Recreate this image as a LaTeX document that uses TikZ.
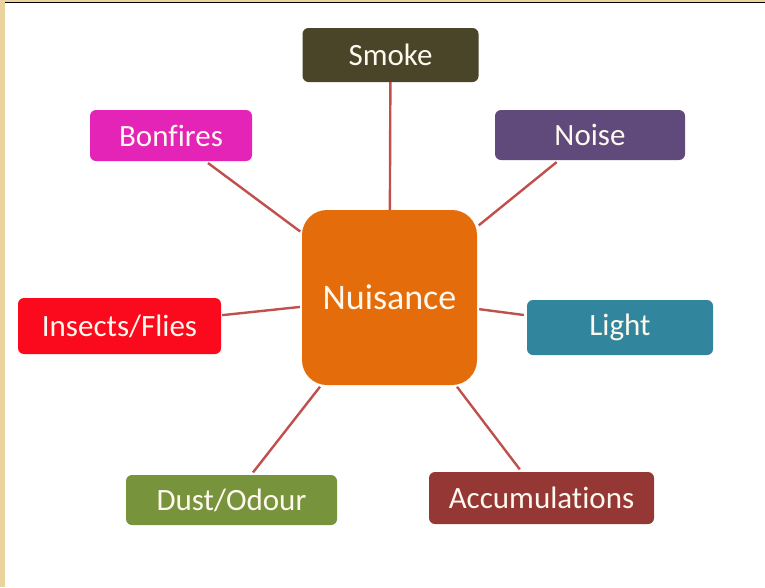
\documentclass[tikz,border=0pt]{standalone}
\usepackage{fontspec}
\setmainfont{Carlito}[Ligatures=NoCommon]
\definecolor{parch}{HTML}{EAD39C}
\definecolor{cSmoke}{HTML}{4A4428}
\definecolor{cBon}{HTML}{E324B6}
\definecolor{cNoise}{HTML}{604A7B}
\definecolor{cNui}{HTML}{E46C0A}
\definecolor{cIns}{HTML}{FA0A1C}
\definecolor{cLight}{HTML}{31859C}
\definecolor{cDust}{HTML}{77933C}
\definecolor{cAcc}{HTML}{953735}
\definecolor{cLine}{HTML}{C0504D}
\definecolor{cText}{HTML}{FFF8EE}
\begin{document}
\begin{tikzpicture}[x=1pt,y=-1pt,
  leaf/.style={rectangle,rounded corners=6pt,inner sep=0pt,text=cText,
    font=\fontsize{31}{37}\selectfont},
  hub/.style={rectangle,rounded corners=25pt,inner sep=0pt,text=cText,fill=cNui,
    minimum width=175pt,minimum height=175pt,font=\fontsize{36}{43}\selectfont},
  link/.style={draw=cLine,line width=2.4pt,shorten <=3pt,shorten >=2pt}]
\useasboundingbox (0,0) rectangle (765,587);
\fill[white] (0,0) rectangle (765,587);
\fill[parch] (0,0) rectangle (5,587);
\fill[parch] (0,0) rectangle (765,2);
\draw[black,line width=1.2pt] (5,2.6) -- (765,2.6);

\node[hub] (nui) at (389.5,297.5) {Nuisance};
\node[leaf,fill=cSmoke,minimum width=176pt,minimum height=54pt] (smoke) at (390.5,55) {Smoke};
\node[leaf,fill=cBon,minimum width=162pt,minimum height=51pt] (bon) at (171,135.5) {Bonfires};
\node[leaf,fill=cNoise,minimum width=190pt,minimum height=50pt] (noise) at (590,135) {Noise};
\node[leaf,fill=cIns,minimum width=203pt,minimum height=56pt] (ins) at (119.5,326) {Insects/Flies};
\node[leaf,fill=cLight,minimum width=186pt,minimum height=55pt] (light) at (620,327.5) {Light};
\node[leaf,fill=cDust,minimum width=211pt,minimum height=50pt] (dust) at (231.5,500) {Dust/Odour};
\node[leaf,fill=cAcc,minimum width=225pt,minimum height=52pt] (acc) at (541.5,498) {Accumulations};

\draw[link,shorten <=0pt,shorten >=0pt] (smoke) -- (nui);
\draw[link] (bon) -- (nui);
\draw[link] (noise) -- (nui);
\draw[link,shorten <=1pt] (ins) -- (nui);
\draw[link] (light) -- (nui);
\draw[link] (dust) -- (nui);
\draw[link] (acc) -- (nui);
\end{tikzpicture}
\end{document}
